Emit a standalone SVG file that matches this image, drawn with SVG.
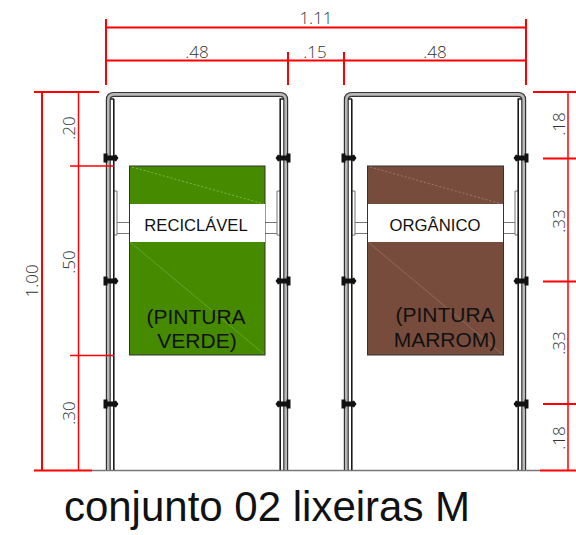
<svg xmlns="http://www.w3.org/2000/svg" width="576" height="535" viewBox="0 0 576 535">
<defs>
<style>
.dim{stroke:#f00;stroke-width:2;fill:none}
.dimk{stroke:#f00;stroke-width:1.5;fill:none}
.d{font-family:"Open Sans","Liberation Sans",sans-serif;font-size:17px;font-weight:300;fill:#333;text-anchor:middle}
.lab{font-family:"Liberation Sans",sans-serif;fill:#111;text-anchor:middle}
.o1{fill:none;stroke:#333;stroke-width:5}
.o2{fill:none;stroke:#b8b8b8;stroke-width:2.600}
.i{fill:none;stroke:#1a1a1a;stroke-width:1.600}
.t{fill:none;stroke:#777;stroke-width:1}
.b{fill:#111}
.diag{stroke-width:.8;fill:none}
</style>
<g id="frame">
<path class="t" d="M114 191H117V235H114M280 191H277V235H280M117 222.500H129M117 233.500H129M277 222.500H265M277 233.500H265"/>
<path class="o1" d="M108.300 470V100Q108.300 94.400 114 94.400H280Q285.700 94.400 285.700 100V470"/>
<path class="o2" d="M108.300 470V100Q108.300 94.400 114 94.400H280Q285.700 94.400 285.700 100V470"/>
<path class="i" d="M110.500 99H114M113.800 470V99M280.200 470V99H283.500"/>
<g class="b">
<path id="bl" d="M103.500 153.500H107.500V155.500H114L116 154.500L118.500 158L116 161.500L114 160.500H107.500V162.500H103.500Z"/>
<use href="#bl" y="123"/><use href="#bl" y="246"/>
<path id="br" d="M290.500 153.500H286.500V155.500H280L278 154.500L275.500 158L278 161.500L280 160.500H286.500V162.500H290.500Z"/>
<use href="#br" y="123"/><use href="#br" y="246"/>
</g>
</g>
</defs>
<rect width="576" height="535" fill="#fff"/>
<path id="ground" d="M92 470.500H540" stroke="#777" stroke-width="1.500" fill="none"/>
<g id="lixeira-verde">
<use href="#frame"/>
<rect x="129.500" y="166" width="135.500" height="189" fill="#468a00" stroke="#333" stroke-width="1"/>
<path class="diag" stroke="#8fbf5a" stroke-dasharray="2 2" d="M132 167L264 204"/>
<path class="diag" stroke="#6fa83a" d="M130 242L264 354"/>
<rect x="130" y="204" width="135" height="38" fill="#fff"/>
<text class="lab" x="196" y="231" style="font-size:16.600px">RECICLÁVEL</text>
<text class="lab" x="196" y="324" style="font-size:21px">(PINTURA</text>
<text class="lab" x="197" y="348" style="font-size:21px">VERDE)</text>
</g>
<g id="lixeira-marrom">
<use href="#frame" x="238"/>
<rect x="367.500" y="166" width="136" height="189" fill="#774c3c" stroke="#333" stroke-width="1"/>
<path class="diag" stroke="#a88272" stroke-dasharray="2 2" d="M370 167L502 204"/>
<path class="diag" stroke="#977262" d="M368 242L502 354"/>
<rect x="368" y="204" width="135" height="38" fill="#fff"/>
<text class="lab" x="435" y="231" style="font-size:16.700px">ORGÂNICO</text>
<text class="lab" x="445" y="322" style="font-size:21px">(PINTURA</text>
<text class="lab" x="445" y="347" style="font-size:21px">MARROM)</text>
</g>
<g id="connectors">
<path class="dim" d="M106 27.500H526M106 60.500H526M106 19V85M526 19V85M288 52V85M344 52V85"/>
<path class="dim" d="M42 92V470M34 92H99M34 470.500H92M533 92H576M543 158.500H576M543 281.500H576M543 404H576M540 470.500H576"/>
<path class="dimk" d="M78.500 92V470M70 166H114M70 355.500H114M568 92V470"/>
</g>
<g id="dim-labels">
<text class="d" x="316" y="24">1.11</text>
<text class="d" x="197" y="58">.48</text>
<text class="d" x="315" y="58">.15</text>
<text class="d" x="435" y="58">.48</text>
<text class="d" transform="translate(38 281) rotate(-90)">1.00</text>
<text class="d" transform="translate(75 128) rotate(-90)">.20</text>
<text class="d" transform="translate(75 262) rotate(-90)">.50</text>
<text class="d" transform="translate(75 413) rotate(-90)">.30</text>
<text class="d" transform="translate(565 124) rotate(-90)">.18</text>
<text class="d" transform="translate(565 221) rotate(-90)">.33</text>
<text class="d" transform="translate(565 343) rotate(-90)">.33</text>
<text class="d" transform="translate(565 438) rotate(-90)">.18</text>
</g>
<text id="title" x="267" y="521" style="font-family:'Liberation Sans',sans-serif;font-size:42px;fill:#111;text-anchor:middle">conjunto 02 lixeiras M</text>
</svg>
